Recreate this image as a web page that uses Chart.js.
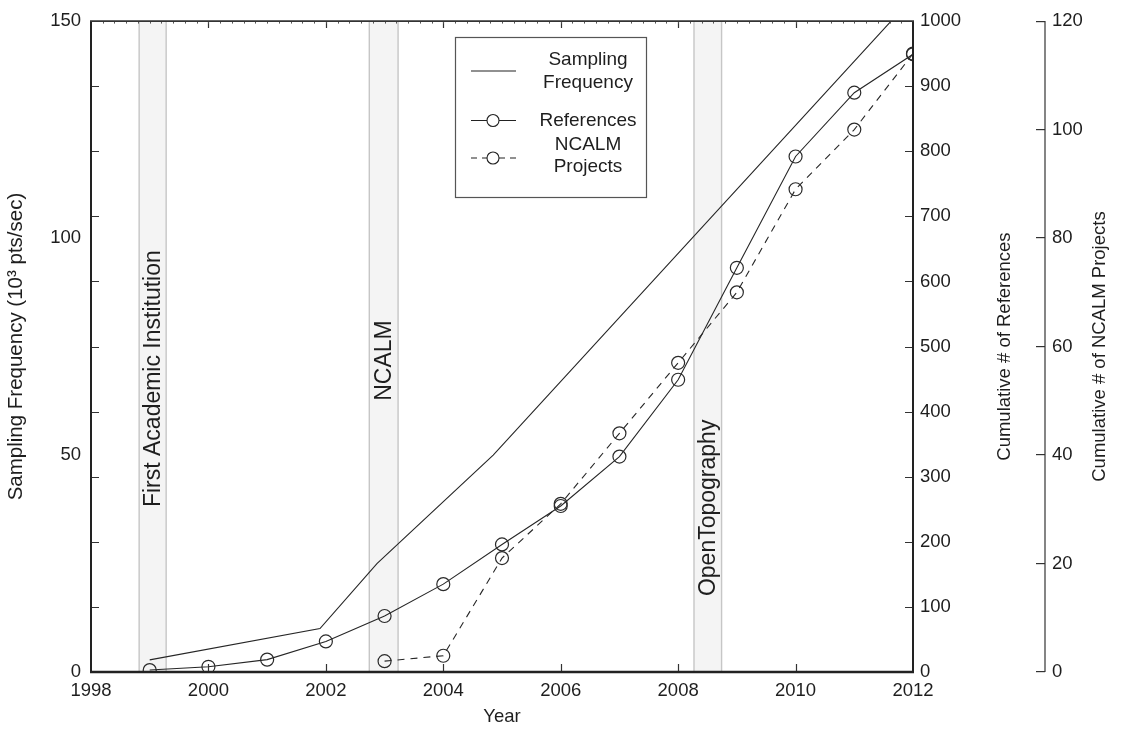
<!DOCTYPE html>
<html>
<head>
<meta charset="utf-8">
<script src="https://cdn.jsdelivr.net/npm/chart.js@4.4.1/dist/chart.umd.min.js"></script>
<style>
  html, body { margin: 0; padding: 0; background: #fff; }
  #wrap { width: 1127px; height: 731px; }
</style>
</head>
<body>
<div id="wrap"><canvas id="c" width="1127" height="731"></canvas></div>
<script>
// ---- data ----
const years = [1999, 2000, 2001, 2002, 2003, 2004, 2005, 2006, 2007, 2008, 2009, 2010, 2011, 2012];
const references = [3, 8, 19, 47, 86, 135, 196, 255, 331, 449, 621, 792, 890, 949];
const ncalmYears = [2003, 2004, 2005, 2006, 2007, 2008, 2009, 2010, 2011, 2012];
const ncalmProjects = [2, 3, 21, 31, 44, 57, 70, 89, 100, 114];
const freqYears = [1999, 2001.9, 2002.87, 2004.85, 2012];
const freqValues = [2.8, 10, 25, 50, 155.5];
const bandStart = [1998.82, 2002.74, 2008.27];
const bandEnd = [1999.28, 2003.23, 2008.74];
const bandLabels = ['First Academic Institution', 'NCALM', 'OpenTopography'];
const xTickValues = [1998, 2000, 2002, 2004, 2006, 2008, 2010, 2012];
const yLeftTicks = [0, 50, 100, 150];
const legendLabels = [['Sampling', 'Frequency'], ['References'], ['NCALM', 'Projects']];

const FONT = "'Liberation Sans', Arial, Helvetica, sans-serif";
const INK = '#1e1e1e';

// band label anchors (value on left axis where text starts) - style/position
const bandLabelStart = [38.0, 62.5, 17.5];

const bgPlugin = {
  id: 'bg',
  beforeDraw(chart) {
    const c = chart.ctx;
    c.save(); c.fillStyle = '#fff'; c.fillRect(0, 0, chart.width, chart.height); c.restore();
  }
};

const bandsPlugin = {
  id: 'bands',
  beforeDatasetsDraw(chart) {
    const c = chart.ctx, a = chart.chartArea, x = chart.scales.x, y = chart.scales.y;
    c.save();
    for (let i = 0; i < bandStart.length; i++) {
      const x0 = x.getPixelForValue(bandStart[i]);
      const x1 = x.getPixelForValue(bandEnd[i]);
      c.fillStyle = '#f4f4f4';
      c.fillRect(x0, a.top, x1 - x0, a.bottom - a.top);
      c.strokeStyle = '#c6c6c6';
      c.lineWidth = 1.4;
      c.beginPath();
      c.moveTo(x0, a.top); c.lineTo(x0, a.bottom);
      c.moveTo(x1, a.top); c.lineTo(x1, a.bottom);
      c.stroke();
      const cx = (x0 + x1) / 2;
      const yStart = y.getPixelForValue(bandLabelStart[i]);
      c.save();
      c.translate(cx, yStart);
      c.rotate(-Math.PI / 2);
      c.fillStyle = INK;
      c.font = '23px ' + FONT;
      c.textAlign = 'left';
      c.textBaseline = 'middle';
      c.fillText(bandLabels[i], 0, 1);
      c.restore();
    }
    c.restore();
  }
};

const framePlugin = {
  id: 'frame',
  afterDatasetsDraw(chart) {
    const c = chart.ctx, a = chart.chartArea, x = chart.scales.x, y2 = chart.scales.y2, y3 = chart.scales.y3;
    c.save();
    c.strokeStyle = '#333';
    c.lineWidth = 1.2;
    c.beginPath();
    for (let v = 100; v < 1000; v += 100) {
      const py = Math.round(y2.getPixelForValue(v)) + 0.5;
      c.moveTo(a.left, py); c.lineTo(a.left + 8, py);
      c.moveTo(a.right - 8, py); c.lineTo(a.right, py);
    }
    for (let v = 2000; v < 2012; v += 2) {
      const px = Math.round(x.getPixelForValue(v)) + 0.5;
      c.moveTo(px, a.bottom); c.lineTo(px, a.bottom - 8);
      c.moveTo(px, a.top); c.lineTo(px, a.top + 7);
    }
    c.stroke();
    c.strokeStyle = '#555';
    c.lineWidth = 1;
    c.beginPath();
    for (let k = 1; k < 70; k++) {
      const px = Math.round(x.getPixelForValue(1998 + k * 0.2)) + 0.5;
      c.moveTo(px, a.top); c.lineTo(px, a.top + 2.5);
    }
    c.stroke();
    c.strokeStyle = '#222';
    c.lineWidth = 2;
    c.beginPath();
    c.moveTo(a.left, a.top); c.lineTo(a.left, a.bottom);
    c.moveTo(a.right, a.top); c.lineTo(a.right, a.bottom + 1);
    c.stroke();
    c.lineWidth = 2.6;
    c.beginPath();
    c.moveTo(a.left - 1, a.bottom); c.lineTo(a.right + 1, a.bottom);
    c.stroke();
    c.strokeStyle = '#333';
    c.lineWidth = 1.6;
    c.beginPath();
    c.moveTo(a.left - 1, a.top); c.lineTo(a.right + 1, a.top);
    c.stroke();
    const ax = y3.left + 9;
    c.strokeStyle = '#333';
    c.lineWidth = 1.2;
    c.beginPath();
    c.moveTo(ax, y3.getPixelForValue(120)); c.lineTo(ax, y3.getPixelForValue(0));
    c.stroke();
    c.fillStyle = INK;
    c.font = '18.5px ' + FONT;
    c.textAlign = 'center';
    c.textBaseline = 'middle';
    const cy = (a.top + a.bottom) / 2;
    c.save(); c.translate(1005, cy); c.rotate(-Math.PI / 2); c.fillText('Cumulative # of References', 0, 0); c.restore();
    c.save(); c.translate(1100, cy); c.rotate(-Math.PI / 2); c.fillText('Cumulative # of NCALM Projects', 0, 0); c.restore();
    c.restore();
  }
};

const legendPlugin = {
  id: 'customLegend',
  afterDraw(chart) {
    const c = chart.ctx;
    const bx = 455, by = 37, bw = 191, bh = 160;
    c.save();
    c.fillStyle = '#fff';
    c.fillRect(bx, by, bw, bh);
    c.strokeStyle = '#555';
    c.lineWidth = 1.2;
    c.strokeRect(bx + 0.5, by + 0.5, bw, bh);
    const rows = [71, 120.5, 158];
    const textRows = [[60, 82.5], [120.5], [145, 166.5]];
    const dashes = [[], [], [6, 5]];
    const circles = [false, true, true];
    for (let i = 0; i < 3; i++) {
      c.strokeStyle = '#222';
      c.lineWidth = 1.1;
      c.setLineDash(dashes[i]);
      c.beginPath();
      if (circles[i]) {
        c.moveTo(471, rows[i]); c.lineTo(487, rows[i]);
        c.moveTo(499, rows[i]); c.lineTo(516, rows[i]);
      } else {
        c.moveTo(471, rows[i]); c.lineTo(516, rows[i]);
      }
      c.stroke();
      c.setLineDash([]);
      if (circles[i]) {
        c.beginPath(); c.arc(493, rows[i], 6, 0, Math.PI * 2); c.stroke();
      }
      c.fillStyle = INK;
      c.font = '19px ' + FONT;
      c.textAlign = 'center';
      c.textBaseline = 'middle';
      legendLabels[i].forEach((t, j) => c.fillText(t, 588, textRows[i][j]));
    }
    c.restore();
  }
};

const tickFont = { family: FONT, size: 18.5 };
const plain = v => String(v);

new Chart(document.getElementById('c'), {
  type: 'line',
  data: {
    datasets: [
      {
        label: 'Sampling Frequency',
        data: freqYears.map((v, i) => ({ x: v, y: freqValues[i] })),
        yAxisID: 'y',
        borderColor: '#262626', borderWidth: 1.1, pointRadius: 0, tension: 0, fill: false
      },
      {
        label: 'References',
        data: years.map((v, i) => ({ x: v, y: references[i] })),
        yAxisID: 'y2',
        borderColor: '#262626', borderWidth: 1.1, tension: 0, fill: false,
        pointRadius: 6.5, pointBorderWidth: 1.2, pointBorderColor: '#2a2a2a', pointBackgroundColor: 'rgba(0,0,0,0)'
      },
      {
        label: 'NCALM Projects',
        data: ncalmYears.map((v, i) => ({ x: v, y: ncalmProjects[i] })),
        yAxisID: 'y3',
        borderColor: '#262626', borderWidth: 1.1, borderDash: [7, 6], tension: 0, fill: false,
        pointRadius: 6.5, pointBorderWidth: 1.2, pointBorderColor: '#2a2a2a', pointBackgroundColor: 'rgba(0,0,0,0)'
      }
    ]
  },
  options: {
    responsive: false,
    animation: false,
    devicePixelRatio: 1,
    layout: { padding: { top: 17, left: 0, right: 0, bottom: 0 } },
    plugins: { legend: { display: false }, tooltip: { enabled: false } },
    scales: {
      x: {
        type: 'linear', min: 1998, max: 2012,
        afterBuildTicks: s => { s.ticks = xTickValues.map(v => ({ value: v })); },
        ticks: { color: INK, font: tickFont, padding: 8, maxRotation: 0, autoSkip: false, callback: plain },
        grid: { drawOnChartArea: false, drawTicks: false },
        border: { display: false },
        title: { display: true, text: 'Year', color: INK, font: { family: FONT, size: 18.5 }, padding: { top: 4, bottom: 3 } },
        afterFit: s => { s.height = 59; }
      },
      y: {
        position: 'left', min: 0, max: 150,
        afterBuildTicks: s => { s.ticks = yLeftTicks.map(v => ({ value: v })); },
        ticks: { color: INK, font: tickFont, padding: 10, callback: plain },
        grid: { drawOnChartArea: false, drawTicks: false },
        border: { display: false },
        title: { display: true, text: 'Sampling Frequency (10³ pts/sec)', color: INK, font: { family: FONT, size: 20.5 }, padding: { top: 4, bottom: 4 } },
        afterFit: s => { s.width = 91; }
      },
      y2: {
        position: 'right', min: 0, max: 1000, weight: 0,
        ticks: { stepSize: 100, color: INK, font: tickFont, padding: 7, callback: plain },
        grid: { drawOnChartArea: false, drawTicks: false },
        border: { display: false },
        afterFit: s => { s.width = 123; }
      },
      y3: {
        position: 'right', min: 0, max: 120, weight: 1,
        ticks: { stepSize: 20, color: INK, font: tickFont, padding: 7, callback: plain },
        grid: { drawOnChartArea: false, drawTicks: true, tickLength: 9, color: '#333', lineWidth: 1.2 },
        border: { display: false },
        afterFit: s => { s.width = 91; }
      }
    }
  },
  plugins: [bgPlugin, bandsPlugin, framePlugin, legendPlugin]
});
</script>
</body>
</html>
